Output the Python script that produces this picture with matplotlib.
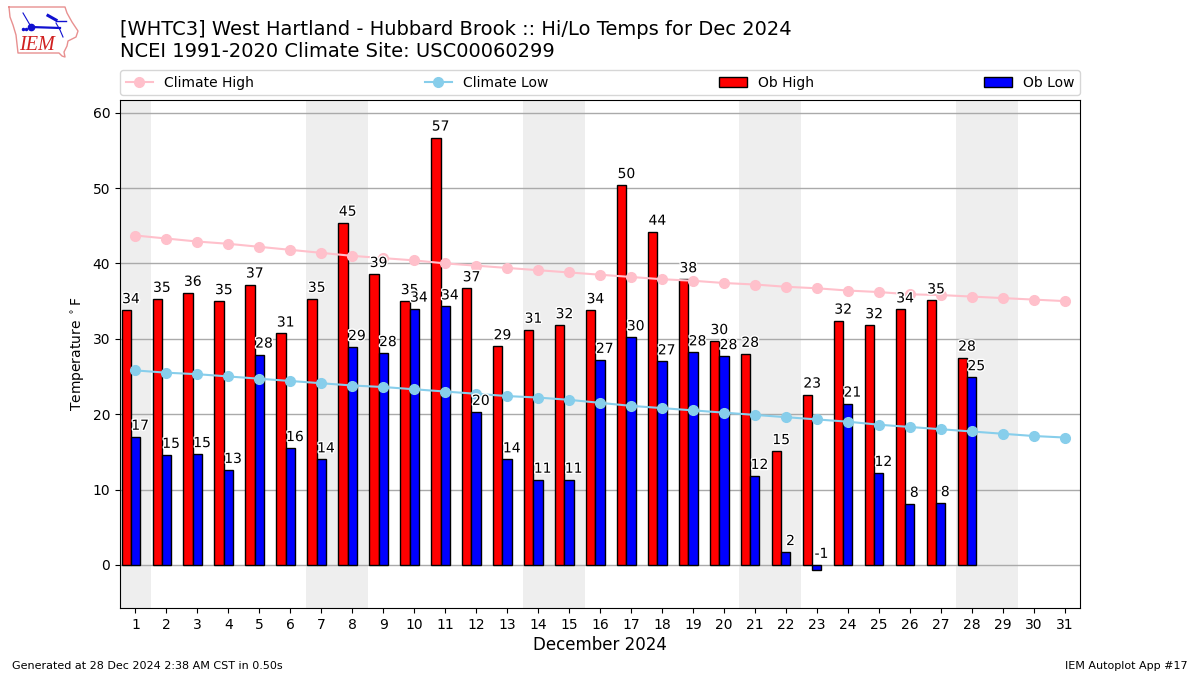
import matplotlib
matplotlib.use("Agg")
import matplotlib.pyplot as plt
import matplotlib.patheffects as pe

days = list(range(1, 32))
ob_days = list(range(1, 29))
ob_high = [33.8, 35.3, 36.1, 35.0, 37.2, 30.7, 35.3, 45.4, 38.6, 35.0, 56.7, 36.7, 29.0, 31.2,
           31.8, 33.8, 50.4, 44.2, 37.9, 29.7, 28.0, 15.1, 22.6, 32.4, 31.8, 33.9, 35.1, 27.5]
ob_low = [17.0, 14.6, 14.7, 12.6, 27.9, 15.5, 14.0, 28.9, 28.1, 34.0, 34.3, 20.3, 14.0, 11.3,
          11.3, 27.2, 30.2, 27.0, 28.2, 27.7, 11.8, 1.7, -0.7, 21.4, 12.2, 8.1, 8.2, 24.9]
clim_high = [43.7, 43.3, 42.9, 42.6, 42.2, 41.8, 41.4, 41.0, 40.7, 40.4, 40.0, 39.7, 39.4, 39.1, 38.8, 38.5,
             38.2, 37.9, 37.7, 37.4, 37.2, 36.9, 36.7, 36.4, 36.2, 35.9, 35.8, 35.6, 35.4, 35.2, 35.0]
clim_low = [25.8, 25.5, 25.3, 25.0, 24.7, 24.4, 24.1, 23.8, 23.6, 23.3, 23.0, 22.7, 22.4, 22.2, 21.9, 21.5,
            21.1, 20.8, 20.5, 20.2, 19.9, 19.6, 19.3, 19.0, 18.6, 18.3, 18.0, 17.7, 17.4, 17.1, 16.9]
weekends = [(0.5, 1.5), (6.5, 8.5), (13.5, 15.5), (20.5, 22.5), (27.5, 29.5)]

W, H = 1200, 675
BAR = 0.3
fig = plt.figure(figsize=(12, 6.75), dpi=100)
ax = fig.add_axes([120 / W, 1 - 608 / H, 960 / W, 508 / H])

for a, b in weekends:
    ax.axvspan(a, b, color="#EEEEEE", lw=0, zorder=0)
ax.grid(axis="y", color="#AAAAAA", lw=1, zorder=1)
ax.set_axisbelow(True)

ax.bar([d - 0.15 for d in ob_days], ob_high, width=-BAR, align="edge", color="red",
       edgecolor="black", lw=1, label="Ob High", zorder=2)
ax.bar([d - 0.15 for d in ob_days], ob_low, width=BAR, align="edge", color="blue",
       edgecolor="black", lw=1, label="Ob Low", zorder=2)
ax.plot(days, clim_high, "-o", color="pink", lw=1.5, ms=7, label="Climate High", zorder=3)
ax.plot(days, clim_low, "-o", color="skyblue", lw=1.5, ms=7, label="Climate Low", zorder=3)

stroke = [pe.withStroke(linewidth=2, foreground="white")]
for d, v in zip(ob_days, ob_high):
    ax.annotate(f"{round(v)}", (d - 0.15, v), xytext=(0, 4), textcoords="offset pixels",
                ha="center", va="bottom", fontsize=10, path_effects=stroke, zorder=4)
for d, v in zip(ob_days, ob_low):
    ax.annotate(f"{round(v)}", (d + 0.15, max(v, 0)), xytext=(0, 4), textcoords="offset pixels",
                ha="center", va="bottom", fontsize=10, path_effects=stroke, zorder=4)

ax.set_xlim(0.5, 31.5)
ax.set_ylim(-5.72, 61.68)
ax.set_xticks(days)
ax.set_yticks(range(0, 61, 10))
ax.tick_params(labelsize=10)
ax.set_xlabel("December 2024", fontsize=12, labelpad=3)
ax.set_ylabel(r"Temperature $^\circ$F", fontsize=10)

handles, labels = ax.get_legend_handles_labels()
order = [labels.index(n) for n in ["Climate High", "Climate Low", "Ob High", "Ob Low"]]
ax.legend([handles[i] for i in order], [labels[i] for i in order], ncol=4, mode="expand",
          loc="lower left", bbox_to_anchor=(0, 1.0095, 1, 0.05), borderaxespad=0, fontsize=10)

fig.text(120 / W, 1 - 35 / H, "[WHTC3] West Hartland - Hubbard Brook :: Hi/Lo Temps for Dec 2024",
         fontsize=14, ha="left", va="baseline")
fig.text(120 / W, 1 - 57 / H, "NCEI 1991-2020 Climate Site: USC00060299",
         fontsize=14, ha="left", va="baseline")
fig.text(12 / W, 1 - 666 / H, "Generated at 28 Dec 2024 2:38 AM CST in 0.50s", fontsize=8, va="center")
fig.text(1188 / W, 1 - 666 / H, "IEM Autoplot App #17", fontsize=8, va="center", ha="right")

# logo (decoration): Iowa outline, blue station glyph, IEM text
logo = fig.add_axes([0, 1 - 60 / H, 90 / W, 60 / H])
logo.set_xlim(0, 90)
logo.set_ylim(60, 0)
logo.axis("off")
logo.plot([9, 65, 67, 72, 78, 76, 68, 67, 64, 65, 62, 59, 18, 16, 13, 10, 9],
          [7, 7, 13, 22, 31, 37, 41, 46, 52, 57, 56, 53, 53, 35, 25, 17, 7],
          color="#E89090", lw=1)
logo.plot([31, 60], [27, 28], color="#1010D0", lw=1.6)
logo.plot([30, 23], [25, 13], color="#1010D0", lw=0.8)
logo.plot([48, 56], [15.5, 20], color="#1010D0", lw=2.2)
logo.plot([56, 66], [21, 21], color="#1010D0", lw=1)
logo.plot([56, 60, 63], [23, 30, 37], color="#1010D0", lw=0.8)
logo.plot([31], [27], "o", color="#1010D0", ms=4.5)
logo.plot([23, 26], [29, 29], ".", color="#1010D0", ms=3)
logo.text(37, 46, "IEM", color="#D02020", fontsize=14.5, family="Liberation Serif",
          style="italic", ha="center", va="center")

fig.savefig("out.png", dpi=100)
